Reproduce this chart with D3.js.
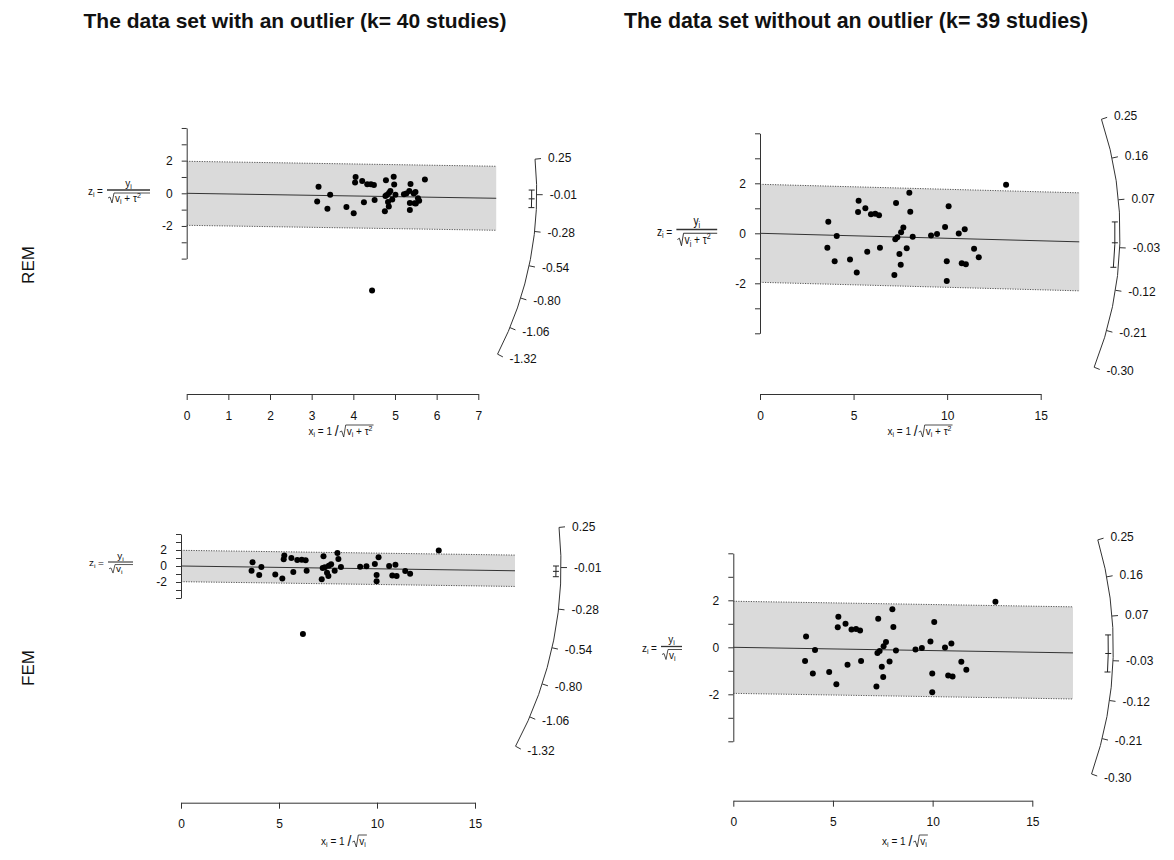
<!DOCTYPE html>
<html><head><meta charset="utf-8">
<script src="https://cdn.jsdelivr.net/npm/d3@7"></script>
<style>
body{margin:0;background:#fff}
text{font-family:"Liberation Sans",Arial,Helvetica,sans-serif;fill:#111}
</style>
</head><body>
<svg id="c" width="1174" height="860"></svg>
<script>
// ---------------- data ----------------
const titles = ["The data set with an outlier (k= 40 studies)", "The data set without an outlier (k= 39 studies)"];
const rowLabels = ["REM", "FEM"];

// 39 studies, no outlier (REM with tau^2 = 0 coincides with FEM)
const xNoOutlier = [3.65,3.60,4.10,3.99,4.81,5.17,5.27,5.24,5.63,5.73,5.93,6.16,6.36,6.41,7.18,7.27,7.23,7.34,7.45,7.52,7.54,7.66,7.84,7.98,8.03,8.16,9.14,9.46,9.89,10.08,9.98,9.98,10.62,10.94,10.78,11.00,11.44,11.69,13.15];
const zNoOutlier = [0.46,-0.58,-0.11,-1.12,-1.05,-1.57,1.30,0.85,1.00,-0.74,0.76,0.78,0.72,-0.58,-1.67,1.21,-0.24,-0.16,-0.83,-1.26,0.04,0.23,-0.60,1.62,0.86,-0.14,-0.09,-0.03,0.25,1.08,-1.12,-1.91,-0.01,0.16,-1.20,-1.24,-0.62,-0.96,1.94];

// 40 studies, REM
const xRemOutlier = [3.165,3.132,3.444,3.378,3.834,4.009,4.055,4.042,4.213,4.254,4.334,4.422,4.494,4.511,4.757,4.783,4.771,4.802,4.833,4.852,4.857,4.889,4.934,4.969,4.981,5.011,5.215,5.273,5.344,5.373,5.357,5.357,5.450,5.492,5.471,5.500,5.552,5.580,5.718,4.450];
const zRemOutlier = [0.399,-0.505,-0.092,-0.948,-0.837,-1.217,1.000,0.656,0.748,-0.549,0.556,0.560,0.509,-0.408,-1.106,0.796,-0.158,-0.105,-0.538,-0.813,0.026,0.147,-0.378,1.009,0.533,-0.086,-0.051,-0.017,0.135,0.576,-0.601,-1.025,-0.005,0.080,-0.609,-0.620,-0.301,-0.458,0.843,-5.95];

// 40 studies, FEM (the 39 plus the outlier)
const xFemOutlier = xNoOutlier.concat([6.22]);
const zFemOutlier = zNoOutlier.concat([-8.5]);

// arc (effect size) tick labels
const arcTicksOutlier = [0.25,-0.01,-0.28,-0.54,-0.80,-1.06,-1.32];
const arcTicksNoOutlier = [0.25,0.16,0.07,-0.03,-0.12,-0.21,-0.30];

// x-axis ticks
const xTicksRem40 = [0,1,2,3,4,5,6,7];
const xTicks15 = [0,5,10,15];
const zTicks = [-4,-3,-2,-1,0,1,2,3,4];
const zTickLabels = [-2,0,2];

// pooled estimates and CI (per panel: REM40, REM39, FEM40, FEM39)
const estimates = [-0.041,-0.020,-0.035,-0.014];
const ciLower = [-0.106,-0.072,-0.070,-0.056];
const ciUpper = [0.024,0.024,0.000,0.028];

// ---------------- layout ----------------
const panels = [
  {x:xRemOutlier, z:zRemOutlier, arc:arcTicksOutlier, xt:xTicksRem40, xDom:[0,7], xRange:[186.7,478.3], z0:193.3, kz:16.33, axisY:394, R:350, bandMax:7.43, rem:true,
   zlab:{left:88, bar:190, sx:1, sy:1, fw:43}, xlab:{cx:341, y:435}},
  {x:xNoOutlier, z:zNoOutlier, arc:arcTicksNoOutlier, xt:xTicks15, xDom:[0,15], xRange:[760,1040.7], z0:233.3, kz:25, axisY:394, R:360, bandMax:17.06, rem:true,
   zlab:{left:657, bar:229.5, sx:1.02, sy:1.25, fw:40}, xlab:{cx:920, y:435}},
  {x:xFemOutlier, z:zFemOutlier, arc:arcTicksOutlier, xt:xTicks15, xDom:[0,15], xRange:[181,475], z0:566, kz:8, axisY:802.7, R:380, bandMax:17.04, rem:false,
   zlab:{left:89, bar:562, sx:1, sy:0.85, fw:25}, xlab:{cx:344, y:845}},
  {x:xNoOutlier, z:zNoOutlier, arc:arcTicksNoOutlier, xt:xTicks15, xDom:[0,15], xRange:[733.3,1032.3], z0:647.3, kz:23.5, axisY:800.7, R:380, bandMax:17.04, rem:false,
   zlab:{left:642, bar:646.5, sx:1, sy:1, fw:21}, xlab:{cx:905, y:845}}
];

const svg = d3.select('#c');
svg.append('rect').attr('width',1174).attr('height',860).attr('fill','#fff');

// titles
svg.append('text').attr('x',295).attr('y',28).attr('text-anchor','middle').attr('font-size',21).attr('font-weight','bold').text(titles[0]);
svg.append('text').attr('x',856).attr('y',28).attr('text-anchor','middle').attr('font-size',21.4).attr('font-weight','bold').text(titles[1]);
// row labels
svg.append('text').attr('transform','translate(34,265) rotate(-90)').attr('text-anchor','middle').attr('font-size',17).text(rowLabels[0]);
svg.append('text').attr('transform','translate(34,668) rotate(-90)').attr('text-anchor','middle').attr('font-size',17).text(rowLabels[1]);

function zLabel(g, L, rem){
  const t = g.append('g').attr('transform',`translate(${L.left},${L.bar}) scale(${L.sx},${L.sy})`);
  const a = t.append('text').attr('x',0).attr('y',5).attr('font-size',10).text('z');
  a.append('tspan').attr('font-size',7).attr('dy',2).text('i');
  t.append('text').attr('x',9).attr('y',5).attr('font-size',10).text('=');
  const fx = 19, fw = L.fw;
  const n = t.append('text').attr('x',fx+fw/2).attr('y',-3.5).attr('text-anchor','middle').attr('font-size',10).text('y');
  n.append('tspan').attr('font-size',7).attr('dy',2).text('i');
  t.append('line').attr('x1',fx).attr('x2',fx+fw).attr('y1',0).attr('y2',0).attr('stroke','#333').attr('stroke-width',1.3);
  const d = t.append('text').attr('x',fx+8).attr('y',12).attr('font-size',10).text('v');
  d.append('tspan').attr('font-size',7).attr('dy',2).text('i');
  if (rem){
    d.append('tspan').attr('font-size',10).attr('dy',-2).text(' + τ');
    d.append('tspan').attr('font-size',7).attr('dy',-4).text('2');
  }
  t.append('path').attr('d',`M${fx+1},8 L${fx+3},7 L${fx+5},13 L${fx+7},3 L${fx+fw},3`).attr('fill','none').attr('stroke','#222').attr('stroke-width',0.8);
}

function xLabel(g, L, rem){
  const t = g.append('g');
  const a = t.append('text').attr('x',0).attr('y',0).attr('font-size',10).text('x');
  a.append('tspan').attr('font-size',7).attr('dy',2).text('i');
  a.append('tspan').attr('font-size',10).attr('dy',-2).text(' = 1 ');
  a.append('tspan').attr('font-size',14).attr('dy',1).text('/');
  const w1 = a.node().getComputedTextLength();
  const rx = w1 + 1;
  const b = t.append('text').attr('x',rx+7).attr('y',0).attr('font-size',10).text('v');
  b.append('tspan').attr('font-size',7).attr('dy',2).text('i');
  if (rem){
    b.append('tspan').attr('font-size',10).attr('dy',-2).text(' + τ');
    b.append('tspan').attr('font-size',7).attr('dy',-4).text('2');
  }
  const w2 = b.node().getComputedTextLength();
  const end = rx + 7 + w2 + 1;
  t.append('path').attr('d',`M${rx},-3 L${rx+2},-4 L${rx+4},2 L${rx+6},-10 L${end},-10`).attr('fill','none').attr('stroke','#222').attr('stroke-width',0.8);
  t.attr('transform',`translate(${L.cx - end/2},${L.y})`);
}

panels.forEach((p, i) => {
  const g = svg.append('g');
  const x = d3.scaleLinear().domain(p.xDom).range(p.xRange);
  const z = d3.scaleLinear().domain([-4,4]).range([p.z0 + 4*p.kz, p.z0 - 4*p.kz]);
  const kx = (p.xRange[1]-p.xRange[0])/(p.xDom[1]-p.xDom[0]);
  const b = estimates[i], zc = 1.96, xm = p.bandMax;

  // confidence band
  g.append('path')
    .attr('d',`M${x(0)},${z(zc)}L${x(xm)},${z(zc+b*xm)}L${x(xm)},${z(-zc+b*xm)}L${x(0)},${z(-zc)}Z`)
    .attr('fill','#dadada');
  [zc,-zc].forEach(c => {
    g.append('line').attr('x1',x(0)).attr('y1',z(c)).attr('x2',x(xm)).attr('y2',z(c+b*xm))
      .attr('stroke','#555').attr('stroke-width',1).attr('stroke-dasharray','1.2,1.3');
  });
  g.append('line').attr('x1',x(0)).attr('y1',z(0)).attr('x2',x(xm)).attr('y2',z(b*xm))
    .attr('stroke','#333').attr('stroke-width',1);

  // y axis
  const ya = g.append('g').attr('transform',`translate(${x(0)},0)`)
    .call(d3.axisLeft(z).tickValues(zTicks).tickSize(5).tickSizeOuter(0).tickPadding(9)
      .tickFormat(d => zTickLabels.includes(d) ? String(d) : ''));
  ya.selectAll('text').attr('font-size',12).attr('font-family',null);
  ya.selectAll('path,line').attr('stroke','#333');

  // x axis
  const xa = g.append('g').attr('transform',`translate(0,${p.axisY})`)
    .call(d3.axisBottom(x).tickValues(p.xt).tickSize(6).tickSizeOuter(0).tickPadding(11).tickFormat(d => String(d)));
  xa.selectAll('text').attr('font-size',12).attr('font-family',null);
  xa.selectAll('path,line').attr('stroke','#333');

  // radial arc axis
  const ang = v => Math.atan(v * p.kz / kx);
  const pt = (v, r) => [x(0) + r*Math.cos(ang(v)), z(0) - r*Math.sin(ang(v))];
  const vmax = d3.max(p.arc), vmin = d3.min(p.arc);
  const s = pt(vmax, p.R), e = pt(vmin, p.R);
  g.append('path').attr('d',`M${s[0]},${s[1]} A${p.R},${p.R} 0 0 1 ${e[0]},${e[1]}`)
    .attr('fill','none').attr('stroke','#333').attr('stroke-width',1);
  p.arc.forEach(v => {
    const a1 = pt(v, p.R), a2 = pt(v, p.R+6), a3 = pt(v, p.R+10);
    g.append('line').attr('x1',a1[0]).attr('y1',a1[1]).attr('x2',a2[0]).attr('y2',a2[1]).attr('stroke','#333');
    g.append('text').attr('x',a3[0]+3).attr('y',a3[1]).attr('dy','0.35em').attr('font-size',12).text(v.toFixed(2));
  });

  // CI bracket
  const rc = p.R - 5;
  const c1 = pt(ciUpper[i], rc), c2 = pt(ciLower[i], rc), cm = pt(b, rc);
  g.append('path').attr('d',`M${c1[0]},${c1[1]} A${rc},${rc} 0 0 1 ${c2[0]},${c2[1]}`).attr('fill','none').attr('stroke','#222');
  [c1,cm,c2].forEach(c => g.append('line').attr('x1',c[0]-3).attr('x2',c[0]+3).attr('y1',c[1]).attr('y2',c[1]).attr('stroke','#222'));

  // points
  g.append('g').selectAll('circle').data(d3.range(p.x.length)).join('circle')
    .attr('cx', j => x(p.x[j])).attr('cy', j => z(p.z[j])).attr('r',3).attr('fill','#000');

  zLabel(g, p.zlab, p.rem);
  xLabel(g, p.xlab, p.rem);
});
</script>
</body></html>
